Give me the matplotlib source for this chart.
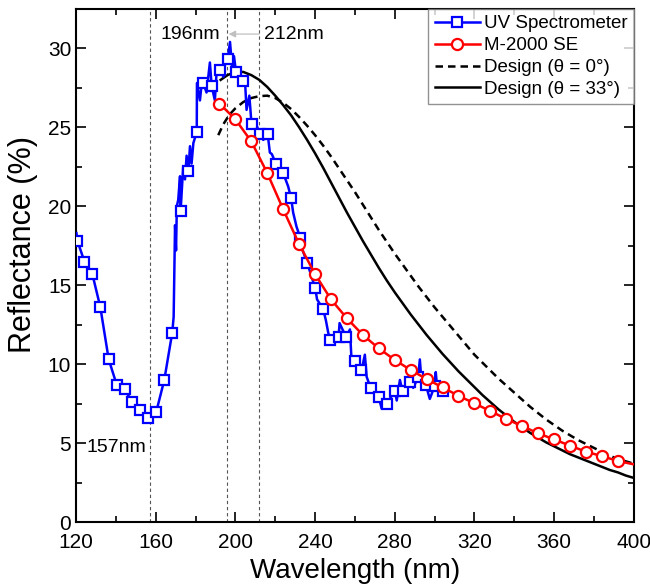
import numpy as np
import matplotlib
matplotlib.use("Agg")
import matplotlib.pyplot as plt
from matplotlib.ticker import MultipleLocator

plt.rcParams['font.family'] = ['Liberation Sans', 'DejaVu Sans']

# UV spectrometer: marker points
uv_mk_wl = [120.7, 124.2, 128.2, 132.2, 136.4, 140.4, 144.4, 148.3, 152.3, 156.3,
            160.3, 164.3, 168.3, 172.5, 176.4, 180.6, 183.9, 188.1, 192.3, 196.1,
            200.3, 203.9, 208.1, 212.3, 216.2, 220.3, 224.0, 228.0, 232.6, 236.1,
            240.1, 244.0, 247.6, 251.8, 255.6, 260.0, 263.3, 267.9, 272.0, 275.9,
            280.1, 283.9, 287.6, 291.8, 295.6, 300.0, 304.0]
uv_mk_r = [17.8, 16.5, 15.7, 13.6, 10.3, 8.7, 8.4, 7.6, 7.1, 6.6,
           7.0, 9.0, 12.0, 19.7, 22.2, 24.7, 27.8, 27.6, 28.6, 29.3,
           28.5, 27.9, 25.2, 24.6, 24.6, 22.7, 22.1, 20.5, 18.0, 16.4,
           14.8, 13.5, 11.5, 11.7, 11.7, 10.2, 9.6, 8.5, 7.9, 7.5,
           8.3, 8.3, 8.9, 9.2, 8.7, 8.6, 8.3]
# UV spectrometer: noisy points between markers
uv_ns_wl = [120.2, 169.0, 169.7, 170.2, 170.6, 171.3, 172.2, 173.0, 173.8, 174.7,
            175.5, 177.2, 178.0, 178.9, 180.7, 182.2, 183.1, 185.5, 187.2, 189.7,
            190.6, 194.0, 195.3, 197.3, 198.6, 199.3, 201.4, 204.8, 205.6, 207.0,
            210.0, 214.0, 217.3, 218.3, 226.5, 229.0, 230.7, 233.8, 241.0, 245.4,
            246.6, 252.3, 257.5, 258.3, 265.0, 265.9, 273.4, 281.0, 282.6, 289.3,
            292.6, 293.4, 297.6, 300.6, 301.3]
uv_ns_r = [18.3, 13.0, 18.8, 17.2, 20.0, 20.4, 21.9, 20.8, 22.5, 21.7,
           23.2, 23.8, 22.7, 24.0, 27.8, 26.7, 27.8, 27.2, 29.1, 26.7,
           28.6, 28.2, 29.5, 30.4, 28.4, 29.5, 28.3, 28.0, 26.1, 27.0,
           25.3, 24.2, 23.4, 23.3, 21.25, 19.6, 18.7, 17.2, 14.1, 12.8,
           12.0, 12.6, 12.2, 10.3, 10.6, 9.2, 7.2, 7.7, 9.0, 8.5,
           10.3, 9.0, 7.8, 9.5, 8.5]

# M-2000 SE
se_wl = [192, 200, 208, 216, 224, 232, 240, 248, 256, 264, 272, 280, 288, 296,
         304, 312, 320, 328, 336, 344, 352, 360, 368, 376, 384, 392, 400]
se_r = [26.5, 25.5, 24.1, 22.1, 19.8, 17.6, 15.7, 14.1, 12.9, 11.85, 11.0, 10.27,
        9.63, 9.06, 8.53, 8.0, 7.52, 7.03, 6.53, 6.08, 5.62, 5.24, 4.84, 4.46,
        4.18, 3.87, 3.66]

# Design, theta = 0
d0_wl = [191.4, 194, 197, 200, 204, 208, 212, 216, 220, 224, 228, 232, 236, 240,
         244, 248, 252, 256, 260, 264, 268, 272, 276, 280, 284, 288, 292, 296,
         300, 304, 308, 312, 316, 320, 324, 328, 332, 336, 340, 344, 348, 352,
         356, 360, 364, 368, 372, 376, 380, 384, 388, 392, 396, 400]
d0_r = [24.5, 25.2, 25.8, 26.2, 26.6, 26.85, 26.97, 27.0, 26.85, 26.55, 26.15,
        25.65, 25.1, 24.5, 23.85, 23.15, 22.4, 21.65, 20.9, 20.1, 19.3, 18.5,
        17.75, 17.0, 16.3, 15.6, 14.9, 14.25, 13.6, 13.0, 12.4, 11.8, 11.2,
        10.6, 10.1, 9.6, 9.1, 8.65, 8.2, 7.75, 7.3, 6.9, 6.5, 6.15, 5.8, 5.5,
        5.2, 4.95, 4.7, 4.45, 4.2, 4.0, 3.85, 3.7]

# Design, theta = 33
d33_wl = [192.6, 196, 200, 204, 208, 212, 216, 220, 224, 228, 232, 236, 240, 244,
          248, 252, 256, 260, 264, 268, 272, 276, 280, 284, 288, 292, 296, 300,
          304, 308, 312, 316, 320, 324, 328, 332, 336, 340, 344, 348, 352, 356,
          360, 364, 368, 372, 376, 380, 384, 388, 392, 396, 400]
d33_r = [28.0, 28.3, 28.5, 28.5, 28.3, 28.0, 27.55, 27.0, 26.4, 25.75, 25.0,
         24.2, 23.35, 22.45, 21.5, 20.55, 19.6, 18.7, 17.8, 16.95, 16.1, 15.3,
         14.55, 13.85, 13.15, 12.5, 11.85, 11.25, 10.65, 10.1, 9.55, 9.05, 8.55,
         8.05, 7.6, 7.15, 6.75, 6.35, 6.0, 5.65, 5.35, 5.05, 4.8, 4.55, 4.3,
         4.1, 3.9, 3.7, 3.5, 3.3, 3.15, 2.95, 2.8]

vlines = [157, 196, 212]

uv_wl = uv_mk_wl + uv_ns_wl
uv_r = uv_mk_r + uv_ns_r
order = np.argsort(uv_wl)
uv_wl = np.array(uv_wl)[order]
uv_r = np.array(uv_r)[order]
uv_marks = [i for i, o in enumerate(order) if o < len(uv_mk_wl)]

fig = plt.figure(figsize=(6.5, 5.86), dpi=100)
ax = fig.add_axes([0.117, 0.109, 0.858, 0.876])

for x in vlines:
    ax.axvline(x, color='#555555', lw=0.8, ls=(0, (3, 2.5)), zorder=1)

ax.plot(uv_wl, uv_r, color='#0000ff', lw=1.8, marker='s', ms=7, mfc='white',
        mec='#0000ff', mew=1.6, markevery=uv_marks, label='UV Spectrometer', zorder=3)
ax.plot(se_wl, se_r, color='#ff0000', lw=1.8, marker='o', ms=8, mfc='white',
        mec='#ff0000', mew=1.6, markevery=list(range(len(se_wl) - 1)),
        label='M-2000 SE', zorder=4)
ax.plot(d0_wl, d0_r, color='black', lw=1.8, ls=(0, (3, 2)),
        label='Design (θ = 0°)', zorder=2)
ax.plot(d33_wl, d33_r, color='black', lw=1.8,
        label='Design (θ = 33°)', zorder=2)

ax.annotate('', xy=(196.6, 30.9), xytext=(212, 30.9),
            arrowprops=dict(arrowstyle='-|>', color='#c0c0c0', lw=0.9,
                            mutation_scale=10, shrinkA=0, shrinkB=0))
ax.text(192.5, 30.9, '196nm', fontsize=14, ha='right', va='center')
ax.text(214.5, 30.9, '212nm', fontsize=14, ha='left', va='center')
ax.text(155, 4.7, '157nm', fontsize=14, ha='right', va='center')

ax.set_xlim(120, 400)
ax.set_ylim(0, 32.5)
ax.xaxis.set_major_locator(MultipleLocator(40))
ax.xaxis.set_minor_locator(MultipleLocator(20))
ax.yaxis.set_major_locator(MultipleLocator(5))
ax.yaxis.set_minor_locator(MultipleLocator(2.5))
ax.tick_params(which='both', direction='in', top=True, right=True, labelsize=15, width=1.2)
ax.tick_params(which='major', length=7)
ax.tick_params(which='minor', length=4)
ax.tick_params(axis='x', pad=8)
for s in ax.spines.values():
    s.set_linewidth(1.5)

ax.set_xlabel('Wavelength (nm)', fontsize=20, labelpad=4)
ax.set_ylabel('Reflectance (%)', fontsize=22)
ax.yaxis.set_label_coords(-0.068, 0.54)

leg = ax.legend(loc='upper right', fontsize=13.5, frameon=True, fancybox=False,
                borderaxespad=0, borderpad=0.35, labelspacing=0.25,
                handlelength=2.4, handletextpad=0.2)
leg.get_frame().set_edgecolor('#777777')
leg.get_frame().set_linewidth(1.0)

fig.savefig('out.png', dpi=100)
